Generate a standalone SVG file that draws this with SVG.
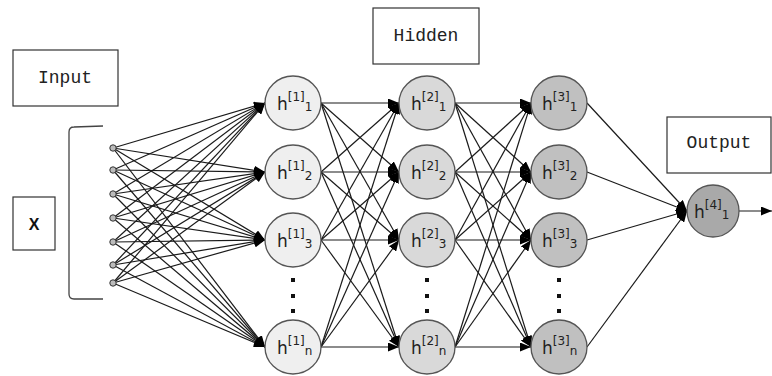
<svg xmlns="http://www.w3.org/2000/svg" width="772" height="376" viewBox="0 0 772 376">
<style>
.lbl{fill:#fff;stroke:#333;stroke-width:1.2}
.lt{font-family:"Liberation Mono","DejaVu Sans Mono",monospace;font-size:18px;fill:#222}
.n{stroke:#555;stroke-width:1.3}
.l1{fill:#efefef}.l2{fill:#d9d9d9}.l3{fill:#c0c0c0}.l4{fill:#a9a9a9}
.nt{font-family:"DejaVu Sans",sans-serif;font-size:17px;fill:#222}
.s{font-size:12px}
.c line{stroke:#1a1a1a;stroke-width:1.2;marker-end:url(#ah)}
.dot{fill:#111}
.in{fill:#bbb;stroke:#333;stroke-width:1}
</style>
<defs>
<marker id="ah" markerUnits="userSpaceOnUse" markerWidth="11" markerHeight="9" refX="11" refY="4.5" orient="auto">
<path d="M0,0 L11,4.5 L0,9 z" fill="#000"/>
</marker>
</defs>
<rect width="772" height="376" fill="#fff"/>

<g id="input-label"><rect class="lbl" x="13" y="50" width="105" height="56"/><text class="lt" x="65" y="83" text-anchor="middle">Input</text></g>
<g id="x-label"><rect class="lbl" x="13" y="197" width="42" height="53"/><text x="34" y="230" text-anchor="middle" font-family="Liberation Sans,Arial,sans-serif" font-weight="bold" font-size="16" fill="#111">X</text></g>
<g id="hidden-label"><rect class="lbl" x="373" y="8" width="106" height="56"/><text class="lt" x="426" y="41" text-anchor="middle">Hidden</text></g>
<g id="output-label"><rect class="lbl" x="667" y="117" width="104" height="56"/><text class="lt" x="719" y="148" text-anchor="middle">Output</text></g>
<g id="bracket"><path d="M103,126 L74,127 Q69,127 69,132 L69,294 Q69,299 74,299 L103,299" fill="none" stroke="#444" stroke-width="1.3"/></g>

<g id="connectors" class="c">
<line x1="113" y1="148" x2="265" y2="103"/><line x1="113" y1="148" x2="265" y2="172"/><line x1="113" y1="148" x2="265" y2="240"/><line x1="113" y1="148" x2="265" y2="347"/>
<line x1="113" y1="170" x2="265" y2="103"/><line x1="113" y1="170" x2="265" y2="172"/><line x1="113" y1="170" x2="265" y2="240"/><line x1="113" y1="170" x2="265" y2="347"/>
<line x1="113" y1="194" x2="265" y2="103"/><line x1="113" y1="194" x2="265" y2="172"/><line x1="113" y1="194" x2="265" y2="240"/><line x1="113" y1="194" x2="265" y2="347"/>
<line x1="113" y1="218" x2="265" y2="103"/><line x1="113" y1="218" x2="265" y2="172"/><line x1="113" y1="218" x2="265" y2="240"/><line x1="113" y1="218" x2="265" y2="347"/>
<line x1="113" y1="242" x2="265" y2="103"/><line x1="113" y1="242" x2="265" y2="172"/><line x1="113" y1="242" x2="265" y2="240"/><line x1="113" y1="242" x2="265" y2="347"/>
<line x1="113" y1="265" x2="265" y2="103"/><line x1="113" y1="265" x2="265" y2="172"/><line x1="113" y1="265" x2="265" y2="240"/><line x1="113" y1="265" x2="265" y2="347"/>
<line x1="113" y1="283" x2="265" y2="103"/><line x1="113" y1="283" x2="265" y2="172"/><line x1="113" y1="283" x2="265" y2="240"/><line x1="113" y1="283" x2="265" y2="347"/>
<line x1="321" y1="103" x2="399" y2="103"/><line x1="321" y1="103" x2="399" y2="172"/><line x1="321" y1="103" x2="399" y2="240"/><line x1="321" y1="103" x2="399" y2="347"/>
<line x1="321" y1="172" x2="399" y2="103"/><line x1="321" y1="172" x2="399" y2="172"/><line x1="321" y1="172" x2="399" y2="240"/><line x1="321" y1="172" x2="399" y2="347"/>
<line x1="321" y1="240" x2="399" y2="103"/><line x1="321" y1="240" x2="399" y2="172"/><line x1="321" y1="240" x2="399" y2="240"/><line x1="321" y1="240" x2="399" y2="347"/>
<line x1="321" y1="347" x2="399" y2="103"/><line x1="321" y1="347" x2="399" y2="172"/><line x1="321" y1="347" x2="399" y2="240"/><line x1="321" y1="347" x2="399" y2="347"/>
<line x1="455" y1="103" x2="531" y2="103"/><line x1="455" y1="103" x2="531" y2="172"/><line x1="455" y1="103" x2="531" y2="240"/><line x1="455" y1="103" x2="531" y2="347"/>
<line x1="455" y1="172" x2="531" y2="103"/><line x1="455" y1="172" x2="531" y2="172"/><line x1="455" y1="172" x2="531" y2="240"/><line x1="455" y1="172" x2="531" y2="347"/>
<line x1="455" y1="240" x2="531" y2="103"/><line x1="455" y1="240" x2="531" y2="172"/><line x1="455" y1="240" x2="531" y2="240"/><line x1="455" y1="240" x2="531" y2="347"/>
<line x1="455" y1="347" x2="531" y2="103"/><line x1="455" y1="347" x2="531" y2="172"/><line x1="455" y1="347" x2="531" y2="240"/><line x1="455" y1="347" x2="531" y2="347"/>
<line x1="587" y1="103" x2="687" y2="211"/><line x1="587" y1="172" x2="687" y2="211"/><line x1="587" y1="240" x2="687" y2="211"/><line x1="587" y1="347" x2="687" y2="211"/>
<line x1="739" y1="211" x2="772" y2="211" stroke-width="2.2"/>
</g>

<g id="inputs">
<circle class="in" cx="113" cy="148" r="3.2"/><circle class="in" cx="113" cy="170" r="3.2"/><circle class="in" cx="113" cy="194" r="3.2"/><circle class="in" cx="113" cy="218" r="3.2"/><circle class="in" cx="113" cy="242" r="3.2"/><circle class="in" cx="113" cy="265" r="3.2"/><circle class="in" cx="113" cy="283" r="3.2"/>
</g>

<g id="h1_1"><ellipse class="n l1" cx="293" cy="103" rx="28" ry="27"/><text class="nt" x="277" y="110">h<tspan class="s" dy="-9">[1]</tspan><tspan class="s" dy="10">1</tspan></text></g>
<g id="h1_2"><ellipse class="n l1" cx="293" cy="172" rx="28" ry="27"/><text class="nt" x="277" y="179">h<tspan class="s" dy="-9">[1]</tspan><tspan class="s" dy="10">2</tspan></text></g>
<g id="h1_3"><ellipse class="n l1" cx="293" cy="240" rx="28" ry="27"/><text class="nt" x="277" y="247">h<tspan class="s" dy="-9">[1]</tspan><tspan class="s" dy="10">3</tspan></text></g>
<g id="h1_n"><ellipse class="n l1" cx="293" cy="347" rx="28" ry="27"/><text class="nt" x="277" y="354">h<tspan class="s" dy="-9">[1]</tspan><tspan class="s" dy="10">n</tspan></text></g>

<g id="h2_1"><ellipse class="n l2" cx="427" cy="103" rx="28" ry="27"/><text class="nt" x="411" y="110">h<tspan class="s" dy="-9">[2]</tspan><tspan class="s" dy="10">1</tspan></text></g>
<g id="h2_2"><ellipse class="n l2" cx="427" cy="172" rx="28" ry="27"/><text class="nt" x="411" y="179">h<tspan class="s" dy="-9">[2]</tspan><tspan class="s" dy="10">2</tspan></text></g>
<g id="h2_3"><ellipse class="n l2" cx="427" cy="240" rx="28" ry="27"/><text class="nt" x="411" y="247">h<tspan class="s" dy="-9">[2]</tspan><tspan class="s" dy="10">3</tspan></text></g>
<g id="h2_n"><ellipse class="n l2" cx="427" cy="347" rx="28" ry="27"/><text class="nt" x="411" y="354">h<tspan class="s" dy="-9">[2]</tspan><tspan class="s" dy="10">n</tspan></text></g>

<g id="h3_1"><ellipse class="n l3" cx="559" cy="103" rx="28" ry="27"/><text class="nt" x="542" y="110">h<tspan class="s" dy="-9">[3]</tspan><tspan class="s" dy="10">1</tspan></text></g>
<g id="h3_2"><ellipse class="n l3" cx="559" cy="172" rx="28" ry="27"/><text class="nt" x="542" y="179">h<tspan class="s" dy="-9">[3]</tspan><tspan class="s" dy="10">2</tspan></text></g>
<g id="h3_3"><ellipse class="n l3" cx="559" cy="240" rx="28" ry="27"/><text class="nt" x="542" y="247">h<tspan class="s" dy="-9">[3]</tspan><tspan class="s" dy="10">3</tspan></text></g>
<g id="h3_n"><ellipse class="n l3" cx="559" cy="347" rx="28" ry="27"/><text class="nt" x="542" y="354">h<tspan class="s" dy="-9">[3]</tspan><tspan class="s" dy="10">n</tspan></text></g>

<g id="h4_1"><ellipse class="n l4" cx="713" cy="211" rx="26" ry="26"/><text class="nt" x="694" y="218">h<tspan class="s" dy="-9">[4]</tspan><tspan class="s" dy="10">1</tspan></text></g>

<g id="ellipsis-dots">
<rect class="dot" x="291" y="278" width="4" height="4"/><rect class="dot" x="291" y="294" width="4" height="4"/><rect class="dot" x="291" y="309" width="4" height="4"/>
<rect class="dot" x="425" y="278" width="4" height="4"/><rect class="dot" x="425" y="294" width="4" height="4"/><rect class="dot" x="425" y="309" width="4" height="4"/>
<rect class="dot" x="557" y="278" width="4" height="4"/><rect class="dot" x="557" y="294" width="4" height="4"/><rect class="dot" x="557" y="309" width="4" height="4"/>
</g>
</svg>
